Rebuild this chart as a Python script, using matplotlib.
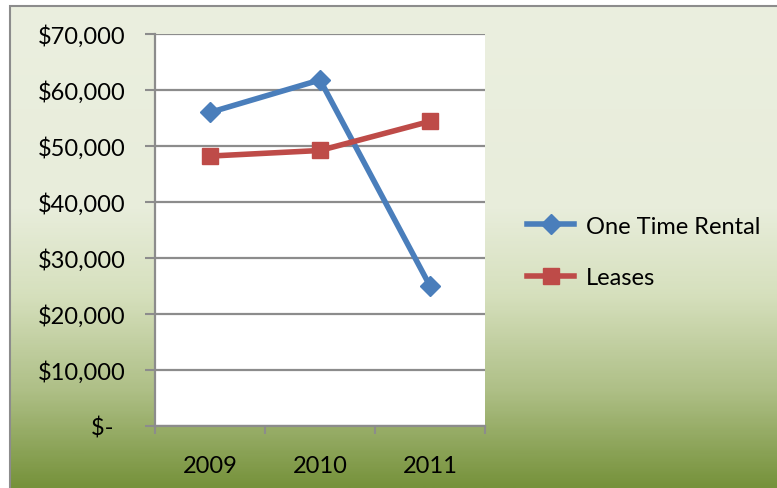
import numpy as np
import matplotlib.pyplot as plt
from matplotlib.colors import LinearSegmentedColormap
from matplotlib.patches import Rectangle

years = ["2009", "2010", "2011"]
one_time_rental = [56000, 61800, 25000]
leases = [48200, 49200, 54400]
y_ticks = [0, 10000, 20000, 30000, 40000, 50000, 60000, 70000]
y_labels = ["$-  ", "$10,000", "$20,000", "$30,000", "$40,000", "$50,000", "$60,000", "$70,000"]

plt.rcParams["font.family"] = ["Lato", "DejaVu Sans"]

W, H = 777, 489
fig = plt.figure(figsize=(W / 100, H / 100), dpi=100)
fig.patch.set_facecolor("white")

# gradient background of the chart area
bg = fig.add_axes([10 / W, 0, 1 - 10 / W, 1 - 7 / H], zorder=0)
cmap = LinearSegmentedColormap.from_list(
    "bg", [(0.0, "#ebefdf"), (0.42, "#e8eddb"), (0.6, "#d6e0bd"),
           (0.8, "#aebf86"), (1.0, "#76923b")])
grad = np.linspace(0, 1, 300).reshape(-1, 1)
bg.imshow(grad, aspect="auto", cmap=cmap, extent=[0, 1, 0, 1], origin="upper")
bg.set_axis_off()
fig.patches.append(Rectangle((10 / W, -0.01), 1.1, 1 - 7 / H + 0.01, transform=fig.transFigure,
                             fill=False, edgecolor="#8c8c8c", linewidth=1.5, zorder=1))

ax = fig.add_axes([155 / W, (H - 427) / H, (485 - 155) / W, (427 - 35) / H], zorder=2)
ax.set_facecolor("white")
x = np.arange(len(years))
ax.plot(x, one_time_rental, color="#4a7ebb", linewidth=4, marker="D",
        markersize=10, label="One Time Rental", zorder=3)
ax.plot(x, leases, color="#be4b48", linewidth=4, marker="s",
        markersize=12, label="Leases", zorder=3)

ax.set_xlim(-0.5, 2.5)
ax.set_ylim(0, 70000)
ax.set_yticks(y_ticks)
ax.set_yticklabels(y_labels)
ax.set_xticks(x)
ax.set_xticklabels(years)
ax.set_xticks([-0.5, 0.5, 1.5, 2.5], minor=True)
ax.tick_params(axis="x", which="major", length=0, pad=21, labelsize=17)
ax.tick_params(axis="x", which="minor", length=6, width=1.5, color="#8c8c8c", direction="out")
ax.tick_params(axis="y", length=7, width=1.5, color="#8c8c8c", pad=14, labelsize=17)
ax.yaxis.grid(True, color="#8c8c8c", linewidth=1.6)
ax.set_axisbelow(True)
for s in ["top", "right"]:
    ax.spines[s].set_visible(False)
for s in ["left", "bottom"]:
    ax.spines[s].set_color("#8c8c8c")
    ax.spines[s].set_linewidth(1.6)

fig.legend(loc="center left", bbox_to_anchor=(527 / W, 1 - 253 / H), frameon=False,
           borderpad=0, borderaxespad=0, fontsize=17, handlelength=2.0,
           handletextpad=0.5, labelspacing=1.3)

fig.savefig("out.png", dpi=100)
